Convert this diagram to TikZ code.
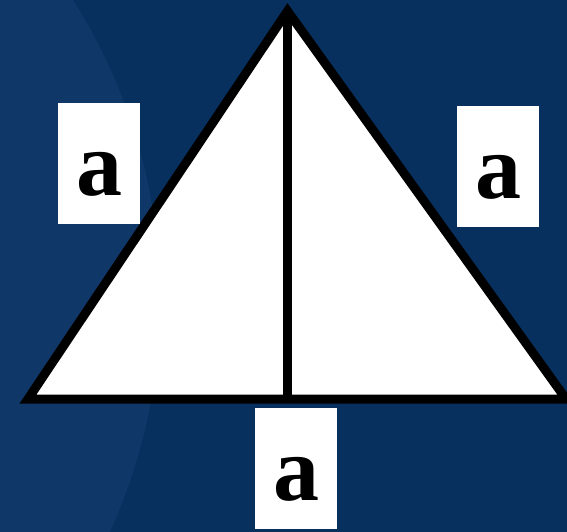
\documentclass[tikz,border=0pt]{standalone}
\usepackage{fontspec}
\setmainfont{Liberation Serif}
\providecommand{\Sea}{08305F}
\providecommand{\Glow}{0F3768}
\providecommand{\Ink}{000000}
\newcommand{\Px}{1pt}
\newcommand{\Rim}{9pt}
\newcommand{\LetterSize}{92}
\definecolor{sea}{HTML}{\Sea}
\definecolor{glow}{HTML}{\Glow}
\definecolor{ink}{HTML}{\Ink}

\tikzset{
  rim/.style={draw=ink, line width=\Rim, miter limit=20},
  tag/.style={fill=white, inner sep=0pt, minimum width=82pt,
    text height=92pt, text depth=29pt, anchor=base,
    font=\fontsize{\LetterSize}{\LetterSize}\selectfont\bfseries},
}

\begin{document}
\begin{tikzpicture}[x=\Px,y=-\Px, line join=miter]

  % ---- backdrop -----------------------------------------------------------
  \fill[sea] (0,0) rectangle (567,532);
  \useasboundingbox (0,0) rectangle (567,532);
  \begin{scope}
    \clip (0,0) rectangle (567,532);
    \fill[glow] (-400,300) circle (560);
  \end{scope}

  % ---- the triangle and its height ----------------------------------------
  \coordinate (apex) at (287.5,11);
  \coordinate (left) at (28,399);
  \coordinate (right) at (566,399);
  \coordinate (foot) at (287.5,399);
  \filldraw[rim, fill=white] (apex) -- (right) -- (left) -- cycle;
  \draw[rim] (apex) -- (foot);

  % ---- side labels --------------------------------------------------------
  \node[tag] (sideL) at (99,195) {a};
  \node[tag] (sideR) at (498,198) {a};
  \node[tag] (sideB) at (296,500) {a};

\end{tikzpicture}
\end{document}
